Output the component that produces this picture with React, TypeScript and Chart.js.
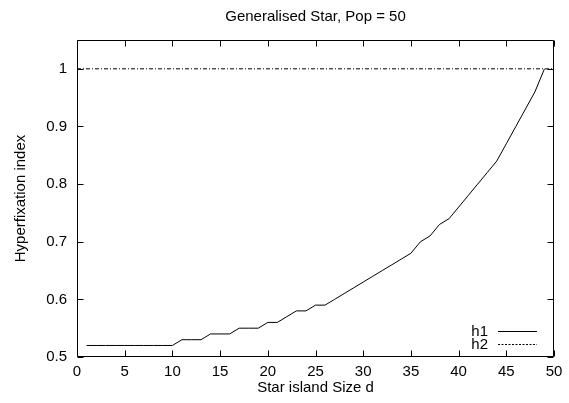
import React, { useEffect, useRef } from 'react';
import { Chart, registerables } from 'chart.js';

Chart.register(...registerables);

const chartTitle = 'Generalised Star, Pop = 50';
const xTitle = 'Star island Size d';
const yTitle = 'Hyperfixation index';

const sizes = [
  1, 2, 3, 4, 5, 6, 7, 8, 9, 10,
  11, 12, 13, 14, 15, 16, 17, 18, 19, 20,
  21, 22, 23, 24, 25, 26, 27, 28, 29, 30,
  31, 32, 33, 34, 35, 36, 37, 38, 39, 40,
  41, 42, 43, 44, 45, 46, 47, 48, 49,
];
const h1 = [
  0.52, 0.52, 0.52, 0.52, 0.52, 0.52, 0.52, 0.52, 0.52, 0.52,
  0.53, 0.53, 0.53, 0.54, 0.54, 0.54, 0.55, 0.55, 0.55, 0.56,
  0.56, 0.57, 0.58, 0.58, 0.59, 0.59, 0.6, 0.61, 0.62, 0.63,
  0.64, 0.65, 0.66, 0.67, 0.68, 0.7, 0.71, 0.73, 0.74, 0.76,
  0.78, 0.8, 0.82, 0.84, 0.87, 0.9, 0.93, 0.96, 1.0,
];
const h2X = [0, 50];
const h2 = [1, 1];

const xTicks = [0, 5, 10, 15, 20, 25, 30, 35, 40, 45, 50];
const yTicks = [0.5, 0.6, 0.7, 0.8, 0.9, 1];
const yTickLabels = ['0.5', '0.6', '0.7', '0.8', '0.9', '1'];

const FONT = '"Liberation Sans", Arial, Helvetica, sans-serif';
const FS = 15;

const framePlugin = {
  id: 'gnuFrame',
  afterDatasetsDraw(chart: any) {
    const { ctx, chartArea } = chart;
    const { left, right, top, bottom } = chartArea;
    const xs = chart.scales.x;
    const ys = chart.scales.y;
    const tl = 6;
    ctx.save();
    ctx.strokeStyle = '#000';
    ctx.lineWidth = 1;
    ctx.setLineDash([]);
    ctx.beginPath();
    const L = Math.round(left) + 0.5;
    const R = Math.round(right) - 0.5;
    const T = Math.round(top) + 0.5;
    const B = Math.round(bottom) - 0.5;
    ctx.rect(L, T, R - L, B - T);
    xTicks.forEach((v) => {
      const px = Math.round(xs.getPixelForValue(v)) + 0.5;
      ctx.moveTo(px, B);
      ctx.lineTo(px, B - tl);
      ctx.moveTo(px, T);
      ctx.lineTo(px, T + tl);
    });
    yTicks.forEach((v) => {
      const py = Math.round(ys.getPixelForValue(v)) + 0.5;
      ctx.moveTo(L, py);
      ctx.lineTo(L + tl, py);
      ctx.moveTo(R, py);
      ctx.lineTo(R - tl, py);
    });
    ctx.stroke();

    // legend (gnuplot style: text then sample)
    const datasets = chart.data.datasets;
    const textRight = 488;
    const sampleL = 498;
    const sampleR = 537;
    const rowY = [331, 344];
    ctx.font = `${FS}px ${FONT}`;
    ctx.fillStyle = '#000';
    ctx.textAlign = 'right';
    ctx.textBaseline = 'middle';
    datasets.forEach((ds: any, i: number) => {
      const y = rowY[i];
      ctx.fillText(ds.label, textRight, y + 0.5);
      ctx.beginPath();
      ctx.setLineDash(i === 0 ? [] : [2, 1.5]);
      ctx.strokeStyle = ds.borderColor;
      ctx.lineWidth = 1;
      ctx.moveTo(sampleL, y + 0.5);
      ctx.lineTo(sampleR, y + 0.5);
      ctx.stroke();
    });
    ctx.restore();
  },
};

export default function App() {
  const canvasRef = useRef<HTMLCanvasElement | null>(null);

  useEffect(() => {
    const canvas = canvasRef.current;
    if (!canvas) return;
    const chart = new Chart(canvas, {
      type: 'line',
      data: {
        datasets: [
          {
            label: 'h1',
            data: sizes.map((x, i) => ({ x, y: h1[i] })),
            borderColor: '#000',
            borderWidth: 1,
            pointRadius: 0,
            tension: 0,
            fill: false,
          },
          {
            label: 'h2',
            data: h2X.map((x, i) => ({ x, y: h2[i] })),
            borderColor: '#000',
            borderWidth: 1,
            borderDash: [4, 2, 1, 2],
            pointRadius: 0,
            tension: 0,
            fill: false,
          },
        ],
      },
      options: {
        responsive: false,
        animation: false,
        events: [],
        layout: { padding: { left: 0, right: 15, top: 0, bottom: 0 } },
        plugins: {
          legend: { display: false },
          tooltip: { enabled: false },
          title: {
            display: true,
            fullSize: false,
            text: chartTitle,
            color: '#000',
            font: { family: FONT, size: FS, weight: 'normal', lineHeight: 1.2 },
            padding: { top: 8, bottom: 14 },
          },
        },
        scales: {
          x: {
            type: 'linear',
            min: 0,
            max: 50,
            grid: { display: false, drawTicks: false },
            border: { display: false },
            afterBuildTicks: (scale: any) => {
              scale.ticks = xTicks.map((v) => ({ value: v }));
            },
            afterFit: (scale: any) => {
              scale.height = 46;
            },
            ticks: {
              color: '#000',
              font: { family: FONT, size: FS },
              padding: 6,
              maxRotation: 0,
              autoSkip: false,
              callback: (v: any) => String(v),
            },
            title: {
              display: true,
              text: xTitle,
              color: '#000',
              font: { family: FONT, size: FS, lineHeight: 1.2 },
              padding: { top: 0, bottom: 6 },
            },
          },
          y: {
            type: 'linear',
            min: 0.5,
            max: 1.05,
            grid: { display: false, drawTicks: false },
            border: { display: false },
            afterBuildTicks: (scale: any) => {
              scale.ticks = yTicks.map((v) => ({ value: v }));
            },
            afterFit: (scale: any) => {
              scale.width = 77;
            },
            ticks: {
              color: '#000',
              font: { family: FONT, size: FS },
              padding: 10,
              autoSkip: false,
              callback: (v: any) => {
                const i = yTicks.indexOf(Number(v));
                return i >= 0 ? yTickLabels[i] : '';
              },
            },
            title: {
              display: true,
              text: yTitle,
              color: '#000',
              font: { family: FONT, size: FS, lineHeight: 1.2 },
              padding: { top: 12, bottom: 0 },
            },
          },
        },
      },
      plugins: [framePlugin],
    } as any);
    return () => chart.destroy();
  }, []);

  return (
    <div style={{ position: 'fixed', left: 0, top: 0, width: 569, height: 403, background: '#fff' }}>
      <canvas ref={canvasRef} width={569} height={403} style={{ display: 'block' }} />
    </div>
  );
}
